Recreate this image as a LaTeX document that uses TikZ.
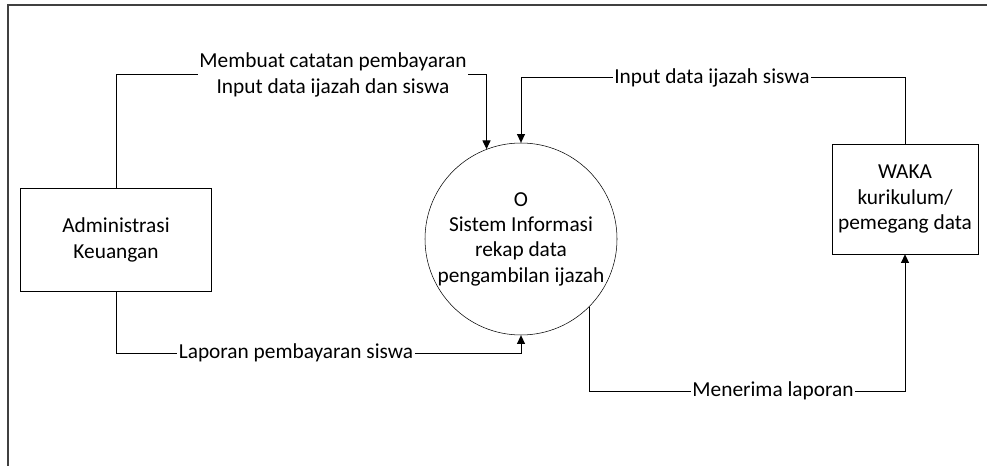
\documentclass[tikz,border=0pt]{standalone}
\usepackage{fontspec}
\setmainfont{Carlito}
\usetikzlibrary{arrows.meta,positioning}
\tikzset{
  myent/.style={draw,rectangle,align=center,inner sep=2pt},
  myproc/.style={draw,circle,align=center,minimum size=144pt,inner sep=0pt},
  mylabel/.style={align=center,inner sep=1pt},
  route/.style={line width=0.75pt},
  inroute/.style={route,-{Triangle[length=6.5pt,width=6pt]}},
  myframe/.style={line width=0.9pt,black!75}
}

\begin{document}
\begin{tikzpicture}[x=0.75pt,y=-0.75pt,font=\fontsize{16}{19}\selectfont]
  \useasboundingbox (0,0) rectangle (987,466);
  \draw[myframe] (8,466) -- (8,5) -- (987,5);
  % entities and process
  \node[myent,minimum width=143pt,minimum height=77pt] (admin) at (116,240) {Administrasi\\Keuangan};
  \node[myproc] (sis) at (521,239) {O\\Sistem Informasi\\rekap data\\pengambilan ijazah};
  \node[myent,minimum width=109.5pt,minimum height=82.5pt] (waka) at (905,199) {WAKA\\kurikulum/\\pemegang data};
  % flow labels
  \node[mylabel] (bayar) at (333,75) {Membuat catatan pembayaran\\Input data ijazah dan siswa};
  \node[mylabel] (ijazah) at (712,78) {Input data ijazah siswa};
  \node[mylabel] (lapor) at (296,353) {Laporan pembayaran siswa};
  \node[mylabel] (terima) at (773,391) {Menerima laporan};
  % flows
  \draw[route] (admin.north) |- (bayar.west);
  \draw[inroute] (bayar.east) -| (sis.111);
  \draw[route] (waka.north) |- (ijazah.east);
  \draw[inroute] (ijazah.west) -| (sis.north);
  \draw[route] (admin.south) |- (lapor.west);
  \draw[inroute] (lapor.east) -| (sis.south);
  \draw[route] (sis.-45) |- (terima.west);
  \draw[inroute] (terima.east) -| (waka.south);
\end{tikzpicture}
\end{document}
